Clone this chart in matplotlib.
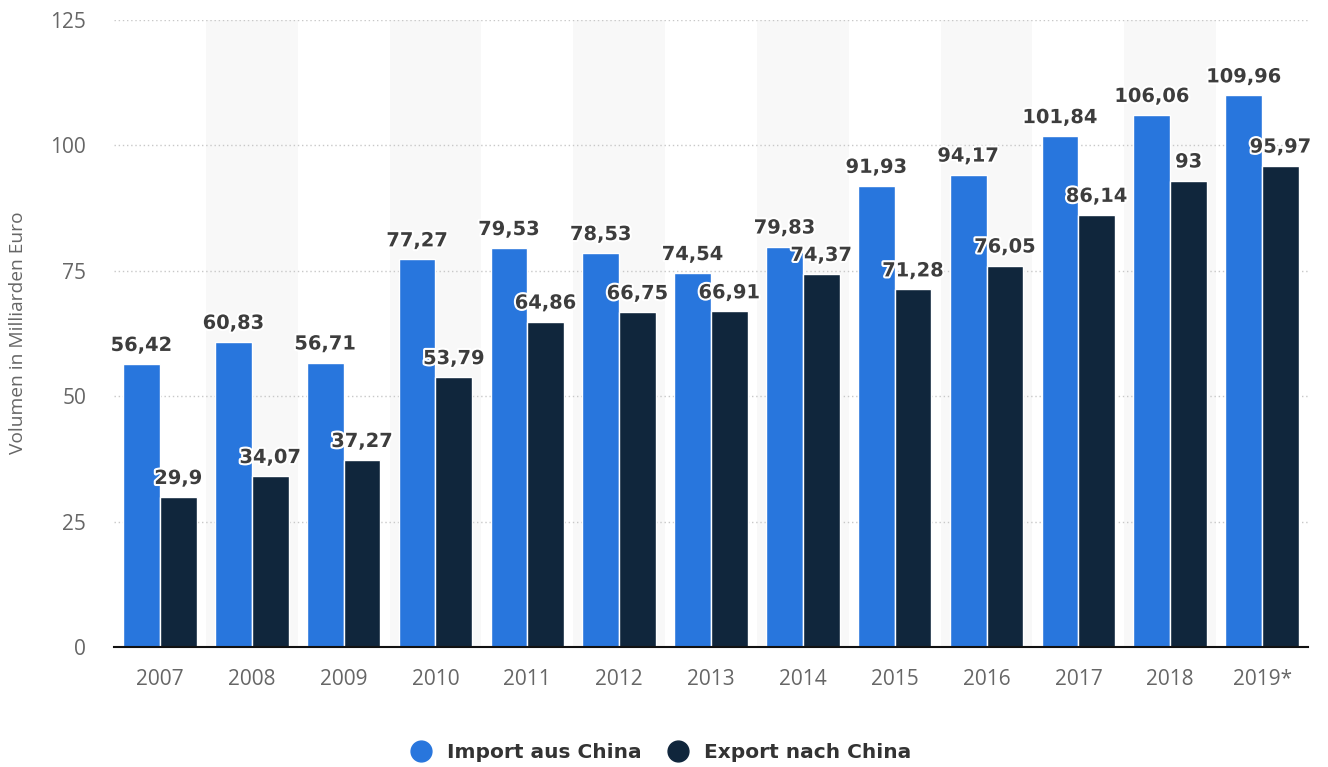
import matplotlib
matplotlib.use("Agg")
import matplotlib.pyplot as plt
import matplotlib.patheffects as pe
from matplotlib.lines import Line2D
import numpy as np

years = ["2007", "2008", "2009", "2010", "2011", "2012", "2013",
         "2014", "2015", "2016", "2017", "2018", "2019*"]
import_china = [56.42, 60.83, 56.71, 77.27, 79.53, 78.53, 74.54,
                79.83, 91.93, 94.17, 101.84, 106.06, 109.96]
export_china = [29.9, 34.07, 37.27, 53.79, 64.86, 66.75, 66.91,
                74.37, 71.28, 76.05, 86.14, 93.0, 95.97]
y_ticks = [0, 25, 50, 75, 100, 125]

col_import = "#2876dd"
col_export = "#10263c"

plt.rcParams["font.family"] = ["Open Sans", "DejaVu Sans"]

fig = plt.figure(figsize=(13.28, 7.67), dpi=100)
ax = fig.add_axes([114 / 1328, 1 - 647 / 767, (1308 - 114) / 1328, (647 - 20) / 767])

x = np.arange(len(years))
w = 0.4

# alternating background bands
for i in x:
    if i % 2 == 1:
        ax.axvspan(i - 0.5, i + 0.5, color="#f8f8f8", zorder=0, lw=0)

ax.bar(x - w / 2, import_china, width=w, color=col_import, edgecolor="white",
       linewidth=1.0, zorder=2)
ax.bar(x + w / 2, export_china, width=w, color=col_export, edgecolor="white",
       linewidth=1.0, zorder=2)

def fmt(v):
    s = f"{v:.2f}".rstrip("0").rstrip(".")
    return s.replace(".", ",")

stroke = [pe.withStroke(linewidth=3, foreground="white")]
label_kw = dict(textcoords="offset points", ha="center", va="baseline",
                fontsize=14, fontweight="bold", family="DejaVu Sans",
                color="#3d3d3d", path_effects=stroke, zorder=4)
for xi, v in zip(x, import_china):
    ax.annotate(fmt(v), (xi - w / 2, v), xytext=(0, 9.4), **label_kw)
for xi, v in zip(x, export_china):
    ax.annotate(fmt(v), (xi + w / 2, v), xytext=(0, 9.4), **label_kw)

ax.set_xlim(-0.5, len(years) - 0.5)
ax.set_ylim(0, 125)
ax.set_yticks(y_ticks)
ax.set_yticklabels([str(t) for t in y_ticks])
ax.set_xticks(x)
ax.set_xticklabels(years)
ax.tick_params(axis="both", length=0, labelsize=15, labelcolor="#666666")
ax.tick_params(axis="x", pad=16)
ax.tick_params(axis="y", pad=20)

ax.yaxis.grid(True, linestyle=(0, (1, 2)), color="#c8c8c8", linewidth=1, zorder=1)
ax.set_axisbelow(True)
for s in ["top", "right", "left"]:
    ax.spines[s].set_visible(False)
ax.spines["bottom"].set_color("#111111")
ax.spines["bottom"].set_linewidth(1.5)
ax.spines["bottom"].set_zorder(5)

fig.text(18 / 1328, 1 - 333 / 767, "Volumen in Milliarden Euro", rotation=90,
         ha="center", va="center", fontsize=13.8, color="#666666")

handles = [Line2D([], [], marker="o", linestyle="", markersize=15, color=col_import),
           Line2D([], [], marker="o", linestyle="", markersize=15, color=col_export)]
fig.legend(handles, ["Import aus China", "Export nach China"], loc="center",
           bbox_to_anchor=(656 / 1328, 1 - 753 / 767), ncol=2, frameon=False,
           prop={"size": 14.5, "weight": "bold", "family": "DejaVu Sans"},
           labelcolor="#333333", handletextpad=0.3, columnspacing=0.8)

fig.savefig("out.png", dpi=100, facecolor="white")
